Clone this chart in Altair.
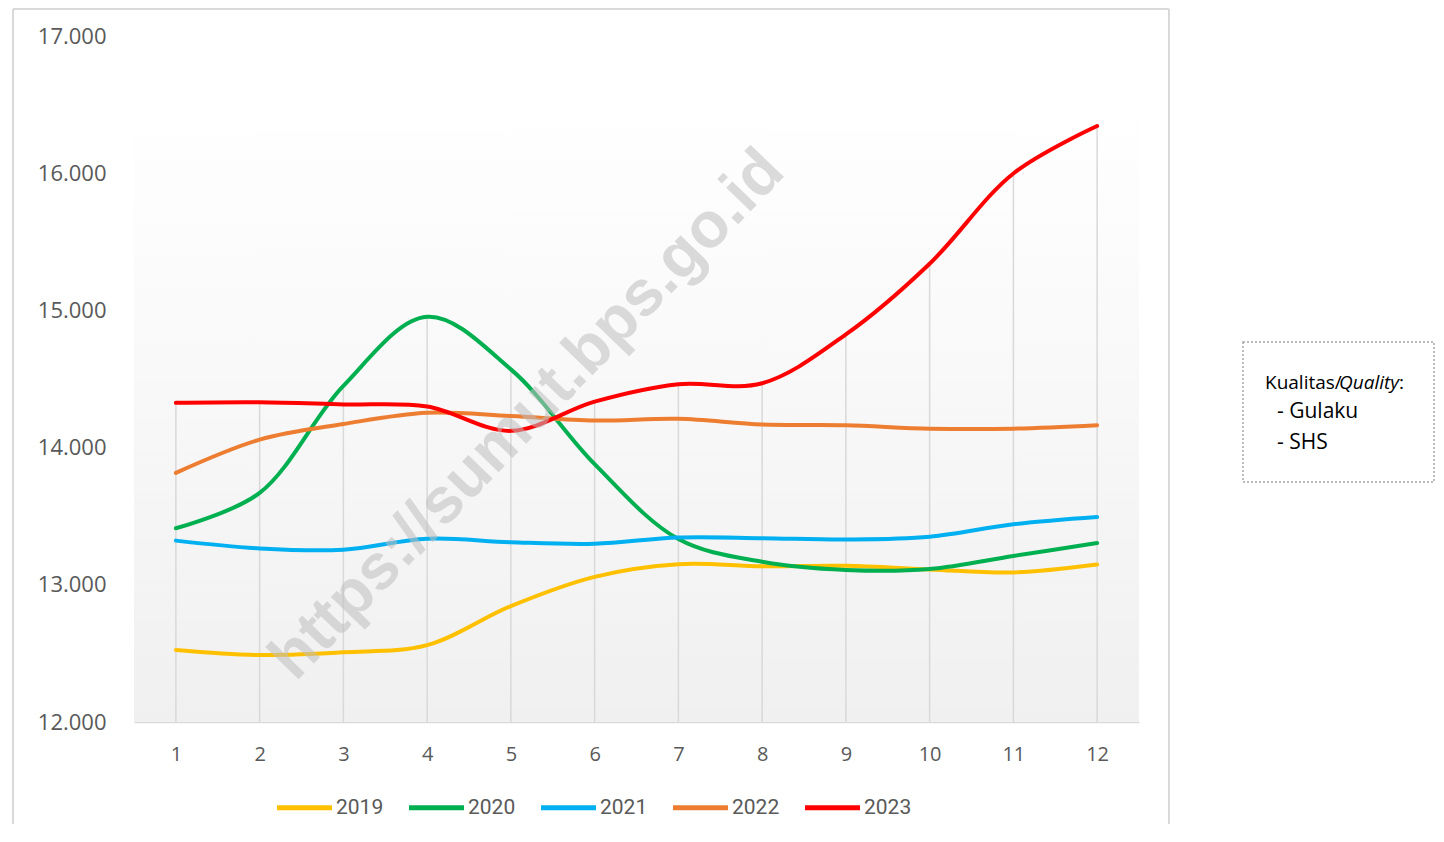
import altair as alt
import pandas as pd

months = list(range(1, 13))
years = ["2019", "2020", "2021", "2022", "2023"]
colors = ["#FFC000", "#00B050", "#00B0F0", "#ED7D31", "#FF0000"]

v2019 = [12525, 12488, 12508, 12560, 12845, 13058, 13150, 13135, 13138, 13112, 13090, 13148]
v2020 = [13412, 13670, 14450, 14953, 14570, 13880, 13334, 13168, 13108, 13115, 13210, 13305]
v2021 = [13322, 13265, 13256, 13336, 13310, 13299, 13345, 13340, 13330, 13350, 13441, 13494]
v2022 = [13816, 14058, 14172, 14254, 14230, 14197, 14210, 14168, 14163, 14138, 14138, 14163]
v2023 = [14326, 14330, 14315, 14300, 14122, 14335, 14462, 14469, 14825, 15340, 15998, 16344]

y_ticks = [12000, 13000, 14000, 15000, 16000, 17000]
watermark = "https://sumut.bps.go.id"
note_title_a = "Kualitas/"
note_title_b = "Quality"
note_title_c = ":"
note_items = ["- Gulaku", "- SHS"]

series = [v2019, v2020, v2021, v2022, v2023]
rows = []
for yr, vals in zip(years, series):
    for m, v in zip(months, vals):
        rows.append({"month": m, "year": yr, "value": v})
df = pd.DataFrame(rows)
drop = df.groupby("month", as_index=False)["value"].max()
one = pd.DataFrame({"a": [0]})

W, H = 1005, 686
xscale = alt.Scale(domain=[0.5, 12.5], nice=False, zero=False)
yscale = alt.Scale(domain=[12000, 17000], nice=False, zero=False)

xaxis = alt.Axis(values=months, format="d", title=None, grid=False, ticks=False,
                 domain=True, domainColor="#d9d9d9", domainWidth=1.5,
                 labelFontSize=20, labelColor="#595959", labelFont="Open Sans",
                 labelPadding=22)
yaxis = alt.Axis(values=y_ticks, title=None, grid=False, ticks=False, domain=False,
                 labelExpr="replace(format(datum.value, ','), ',', '.')",
                 labelFontSize=22, labelColor="#595959", labelFont="Open Sans",
                 labelPadding=28)

gradient = {"gradient": "linear", "x1": 0, "y1": 0, "x2": 0, "y2": 1,
            "stops": [{"offset": 0, "color": "#ffffff"},
                      {"offset": 0.1, "color": "#ffffff"},
                      {"offset": 1, "color": "#f0f0f0"}]}

bg = alt.Chart(one).mark_rect(fill=gradient).encode(
    x=alt.X(datum=0.5, scale=xscale, axis=xaxis),
    x2=alt.datum(12.5),
    y=alt.Y(datum=17000, scale=yscale, axis=yaxis),
    y2=alt.datum(12000),
)

drops = alt.Chart(drop).mark_rule(color="#d9d9d9", strokeWidth=1.5).encode(
    x=alt.X("month:Q", scale=xscale),
    y=alt.Y("value:Q", scale=yscale),
    y2=alt.datum(12000),
)

lines = alt.Chart(df).mark_line(interpolate="catmull-rom", strokeWidth=4, strokeCap="round").encode(
    x=alt.X("month:Q", scale=xscale),
    y=alt.Y("value:Q", scale=yscale),
    color=alt.Color("year:N", scale=alt.Scale(domain=years, range=colors),
                    legend=alt.Legend(title=None, orient="none", direction="horizontal",
                                      legendX=154, legendY=755,
                                      symbolType="M-2,0H2", symbolSize=756,
                                      symbolStrokeWidth=5, labelFontSize=21,
                                      labelFont="Roboto", labelColor="#595959",
                                      labelOffset=15, columnPadding=15, padding=0)),
)

wm = alt.Chart(one).mark_text(text=watermark, angle=314, font="Liberation Sans",
                              fontWeight="bold", fontSize=64, color="#bfbfbf",
                              opacity=0.55, align="center", baseline="middle").encode(
    x=alt.datum(5.2), y=alt.datum(14238))

frame_top = alt.Chart(one).mark_rule(color="#d9d9d9", strokeWidth=2).encode(
    x=alt.value(-121), x2=alt.value(1035), y=alt.value(-27))
frame_left = alt.Chart(one).mark_rule(color="#d9d9d9", strokeWidth=2).encode(
    x=alt.value(-121), y=alt.value(-27), y2=alt.value(788))
frame_right = alt.Chart(one).mark_rule(color="#d9d9d9", strokeWidth=2).encode(
    x=alt.value(1035), y=alt.value(-27), y2=alt.value(788))

box = alt.Chart(one).mark_rect(fillOpacity=0, stroke="#a6a6a6", strokeWidth=1.5,
                               strokeDash=[2, 2]).encode(
    x=alt.value(1109), x2=alt.value(1300), y=alt.value(306), y2=alt.value(446))

t_a = alt.Chart(one).mark_text(text=note_title_a, font="Open Sans", fontSize=19,
                               color="#000000", align="left", baseline="alphabetic").encode(
    x=alt.value(1131), y=alt.value(353))
t_b = alt.Chart(one).mark_text(text=note_title_b, font="Open Sans", fontSize=19,
                               fontStyle="italic", color="#000000", align="left",
                               baseline="alphabetic").encode(
    x=alt.value(1205), y=alt.value(353))
t_c = alt.Chart(one).mark_text(text=note_title_c, font="Open Sans", fontSize=19,
                               color="#000000", align="left", baseline="alphabetic").encode(
    x=alt.value(1265), y=alt.value(353))
t_1 = alt.Chart(one).mark_text(text=note_items[0], font="Open Sans", fontSize=21,
                               color="#000000", align="left", baseline="alphabetic").encode(
    x=alt.value(1143), y=alt.value(382))
t_2 = alt.Chart(one).mark_text(text=note_items[1], font="Open Sans", fontSize=21,
                               color="#000000", align="left", baseline="alphabetic").encode(
    x=alt.value(1143), y=alt.value(413))

chart = alt.layer(
    bg, drops, lines, wm, frame_top, frame_left, frame_right, box, t_a, t_b, t_c, t_1, t_2
).properties(
    width=W, height=H,
    padding={"left": 4, "top": 0, "right": 0, "bottom": 0},
).configure_view(stroke=None)

chart.save("out.html", embed_options={"renderer": "svg", "actions": False})
